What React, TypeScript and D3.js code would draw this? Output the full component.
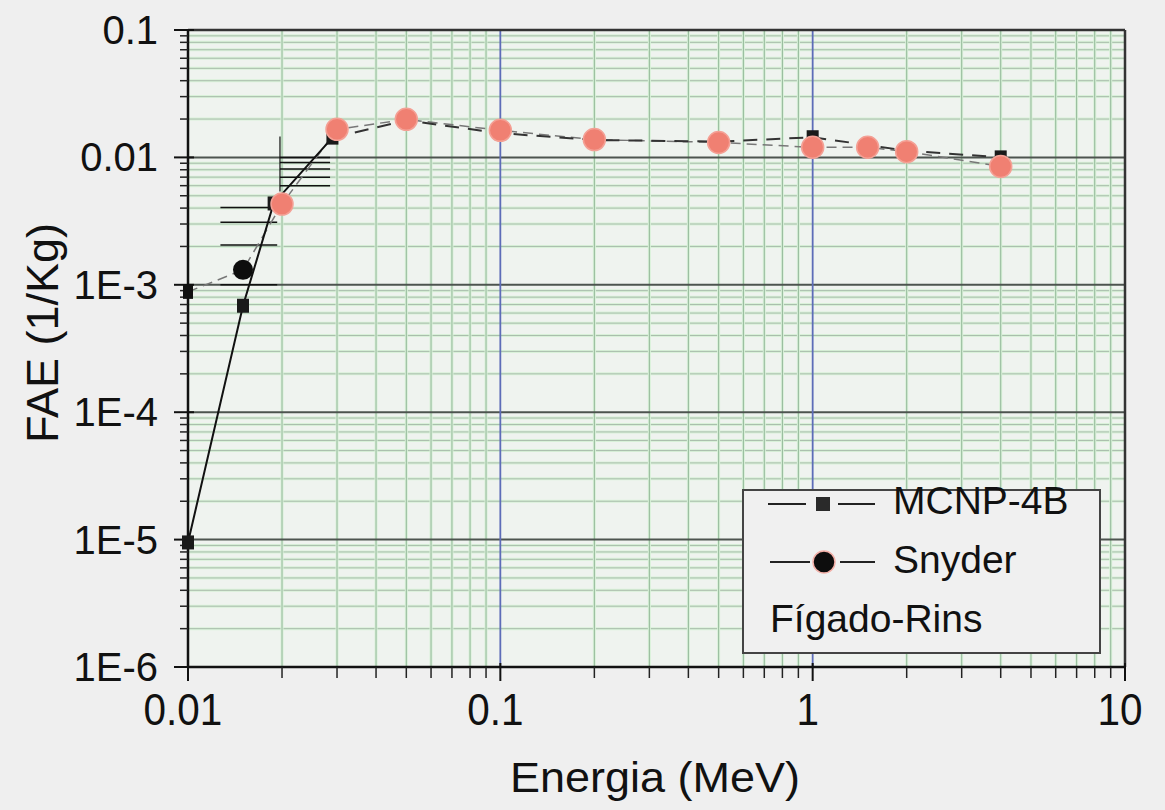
import React from "react";
import * as d3 from "d3";

// Fígado-Rins absorbed fraction, MCNP-4B vs Snyder
const energies = [0.01, 0.015, 0.02, 0.03, 0.05, 0.1, 0.2, 0.5, 1, 1.5, 2, 4];
const mcnpEnergies = [0.01, 0.015, 0.0188, 0.029, 0.05, 0.1, 0.2, 0.5, 1, 1.5, 2, 4];
const mcnp = [9.5e-6, 6.85e-4, 4.35e-3, 0.0143, 0.0195, 0.0155, 0.0137, 0.0133, 0.0144, 0.0125, 0.0113, 0.01];
const snyder = [8.8e-4, 1.31e-3, 4.3e-3, 0.0166, 0.0199, 0.0163, 0.0138, 0.0131, 0.012, 0.012, 0.0111, 0.0085];

const xTicks = [0.01, 0.1, 1, 10];
const xTickLabels = ["0.01", "0.1", "1", "10"];
const yTicks = [1e-6, 1e-5, 1e-4, 1e-3, 0.01, 0.1];
const yTickLabels = ["1E-6", "1E-5", "1E-4", "1E-3", "0.01", "0.1"];

// darker grid fragments seen on the scan
const darkUpperY = [0.01, 0.0091, 0.0081, 0.007, 0.006];
const darkLowerY = [0.00405, 0.0031, 0.00205, 0.001];

const W = 1165;
const H = 810;
const left = 188, right = 1125, top = 30, bottom = 667;
const font = "'Liberation Sans', Arial, sans-serif";

const x = d3.scaleLog().domain([0.01, 10]).range([left, right]);
const y = d3.scaleLog().domain([1e-6, 0.1]).range([bottom, top]);

const minorOf = (lo: number, hi: number) => {
  const out: number[] = [];
  for (let p = lo; p < hi; p *= 10) {
    for (let k = 2; k <= 9; k++) out.push(p * k);
  }
  return out;
};
const xMinor = minorOf(0.01, 10);
const yMinor = minorOf(1e-6, 0.1);

const App = () => {
  const mcnpLine = d3
    .line<number>()
    .x((d, i) => x(mcnpEnergies[i]))
    .y((d) => y(d));
  const snyLine = d3
    .line<number>()
    .x((d, i) => x(energies[i]))
    .y((d) => y(d));

  return (
    <svg width={W} height={H} style={{ position: "absolute", left: 0, top: 0, background: "#efefef" }}>
      <rect x={left} y={top} width={right - left} height={bottom - top} fill="#eff3ef" />

      {/* minor grid */}
      <g>
        {yMinor.map((v, i) => (
          <g key={"ym" + i}>
            <line x1={left} x2={right} y1={y(v)} y2={y(v)} stroke="#d9f1d9" strokeWidth={3} />
            <line x1={left} x2={right} y1={y(v)} y2={y(v)} stroke="#8a9c8e" strokeWidth={1} opacity={0.6} />
          </g>
        ))}
        {xMinor.map((v, i) => (
          <g key={"xm" + i}>
            <line x1={x(v)} x2={x(v)} y1={top} y2={bottom} stroke="#d9f1d9" strokeWidth={3} />
            <line x1={x(v)} x2={x(v)} y1={top} y2={bottom} stroke="#6f9a78" strokeWidth={1} opacity={0.65} />
          </g>
        ))}
      </g>

      {/* major grid */}
      {yTicks.map((v, i) => (
        <line key={"yg" + i} x1={left} x2={right} y1={y(v)} y2={y(v)} stroke="#4d544f" strokeWidth={2} />
      ))}
      {[0.1, 1].map((v, i) => (
        <line key={"xg" + i} x1={x(v)} x2={x(v)} y1={top} y2={bottom} stroke="#5d6cb8" strokeWidth={1.8} />
      ))}

      {/* scan artifacts */}
      {darkUpperY.map((v, i) => (
        <line key={"du" + i} x1={x(0.0197)} x2={x(0.0285)} y1={y(v)} y2={y(v)} stroke="#111" strokeWidth={1.5} />
      ))}
      {darkLowerY.map((v, i) => (
        <line key={"dl" + i} x1={x(0.0127)} x2={x(0.0193)} y1={y(v)} y2={y(v)} stroke="#111" strokeWidth={1.5} />
      ))}
      <line x1={x(0.0197)} x2={x(0.0197)} y1={y(0.0146)} y2={y(0.0054)} stroke="#111" strokeWidth={1.2} />

      {/* frame */}
      <line x1={left} x2={right} y1={top} y2={top} stroke="#333" strokeWidth={2.5} />
      <line x1={right} x2={right} y1={top} y2={bottom} stroke="#333" strokeWidth={2.5} />
      <line x1={left} x2={right} y1={bottom} y2={bottom} stroke="#111" strokeWidth={2.5} />
      <line x1={left} x2={left} y1={top} y2={bottom} stroke="#111" strokeWidth={2.5} />

      {/* y ticks */}
      {yMinor.map((v, i) => (
        <line key={"yt" + i} x1={left - 8} x2={left} y1={y(v)} y2={y(v)} stroke="#222" strokeWidth={1.5} />
      ))}
      {yTicks.map((v, i) => (
        <g key={"yl" + i}>
          <line x1={left - 14} x2={left + 6} y1={y(v)} y2={y(v)} stroke="#111" strokeWidth={2} />
          <text x={158} y={y(v) + 14} textAnchor="end" fontFamily={font} fontSize={40} fill="#111">
            {yTickLabels[i]}
          </text>
        </g>
      ))}

      {/* x ticks */}
      {xMinor.map((v, i) => (
        <line key={"xt" + i} x1={x(v)} x2={x(v)} y1={bottom} y2={bottom + 11} stroke="#222" strokeWidth={1.5} />
      ))}
      {xTicks.map((v, i) => (
        <g key={"xl" + i}>
          <line x1={x(v)} x2={x(v)} y1={bottom - 4} y2={bottom + 14} stroke="#111" strokeWidth={2} />
          <text x={x(v) - 5} y={725} textAnchor="middle" fontFamily={font} fontSize={44} fill="#111"
            transform={`translate(${x(v) - 5},0) scale(0.92,1) translate(${-(x(v) - 5)},0)`}>
            {xTickLabels[i]}
          </text>
        </g>
      ))}

      {/* axis titles */}
      <text x={655} y={792} textAnchor="middle" fontFamily={font} fontSize={43} fill="#111"
        textLength={290} lengthAdjust="spacingAndGlyphs">
        Energia (MeV)
      </text>
      <text transform="translate(58,333) rotate(-90)" textAnchor="middle" fontFamily={font} fontSize={44}
        fill="#111" textLength={220} lengthAdjust="spacingAndGlyphs">
        FAE (1/Kg)
      </text>

      {/* series lines */}
      <path d={snyLine(snyder) || ""} fill="none" stroke="#777" strokeWidth={1.5} strokeDasharray="10 6" />
      <path d={mcnpLine(mcnp.slice(0, 4)) || ""} fill="none" stroke="#111" strokeWidth={2} />
      <path
        d={d3.line<number>().x((d, i) => x(mcnpEnergies[i + 3])).y((d) => y(d))(mcnp.slice(3)) || ""}
        fill="none" stroke="#333" strokeWidth={2} strokeDasharray="14 9"
      />

      {/* MCNP markers */}
      {mcnp.map((v, i) => (
        <rect key={"sq" + i} x={x(mcnpEnergies[i]) - 6} y={y(v) - 7} width={12} height={14} fill="#1a1a1a" />
      ))}
      {/* Snyder markers */}
      {snyder.map((v, i) =>
        i === 0 ? (
          <rect key={"c" + i} x={x(energies[i]) - 5} y={y(v) - 7} width={10} height={14} fill="#111" />
        ) : i === 1 ? (
          <circle key={"c" + i} cx={x(energies[i])} cy={y(v)} r={10} fill="#0d0d0d" />
        ) : (
          <circle key={"c" + i} cx={x(energies[i])} cy={y(v)} r={11} fill="#f08072" stroke="#f4a095" strokeWidth={1.5} />
        )
      )}

      {/* legend */}
      <rect x={743} y={490} width={357} height={163} fill="#f0f0f0" stroke="#444" strokeWidth={2} />
      <line x1={768} x2={875} y1={504} y2={504} stroke="#222" strokeWidth={2} strokeDasharray="38 32 40" />
      <rect x={816} y={497} width={14} height={14} fill="#2a2a2a" />
      <text x={893} y={514} fontFamily={font} fontSize={39} fill="#111">MCNP-4B</text>
      <line x1={770} x2={875} y1={562} y2={562} stroke="#222" strokeWidth={2} strokeDasharray="40 30 40" />
      <circle cx={824} cy={562} r={11} fill="#0d0d0d" stroke="#f4b0a8" strokeWidth={1.5} />
      <text x={893} y={573} fontFamily={font} fontSize={39} fill="#111">Snyder</text>
      <text x={770} y={632} fontFamily={font} fontSize={39} fill="#111">Fígado-Rins</text>
    </svg>
  );
};

export default App;
